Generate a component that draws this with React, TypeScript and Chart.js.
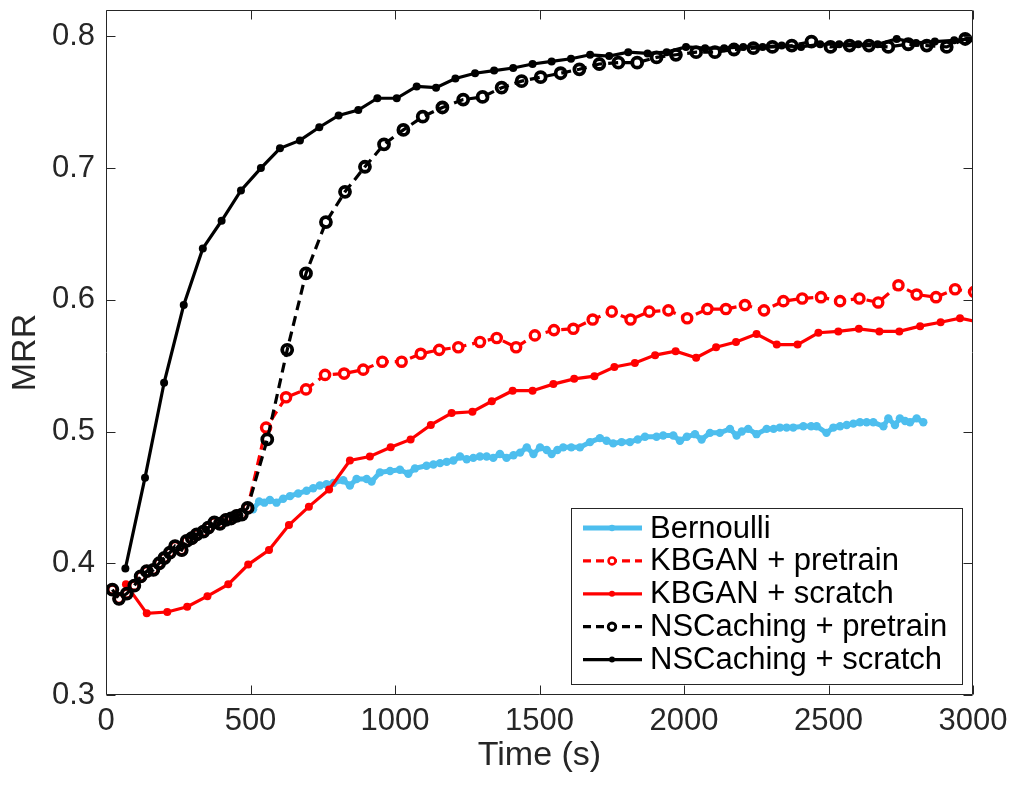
import { useEffect, useRef } from "react";
import { Chart, registerables } from "chart.js";

Chart.register(...registerables);

const FONT = '"Liberation Sans", Arial, Helvetica, sans-serif';
const AXIS_COLOR = "#262626";

const xTicks = [0, 500, 1000, 1500, 2000, 2500, 3000];
const yTicks = [0.3, 0.4, 0.5, 0.6, 0.7, 0.8];

const seriesNames = [
  "Bernoulli",
  "KBGAN + pretrain",
  "KBGAN + scratch",
  "NSCaching + pretrain",
  "NSCaching + scratch",
];

// [time (s), MRR]

// pretraining phase, shared by both "+ pretrain" runs
const pretrainPhase: [number, number][] = [
  [22, 0.38], [45, 0.373], [72, 0.377], [98, 0.383], [120, 0.39], [141, 0.394],
  [164, 0.395], [184, 0.4], [202, 0.404], [221, 0.408], [239, 0.413], [262, 0.41],
  [279, 0.417], [297, 0.419], [314, 0.422], [337, 0.424], [354, 0.427], [375, 0.431],
  [394, 0.43], [415, 0.433], [433, 0.434], [452, 0.436], [470, 0.437], [490, 0.442],
];

const kbganPretrain: [number, number][] = [
  [554, 0.503], [623, 0.526], [692, 0.532], [758, 0.543], [824, 0.544], [890, 0.547],
  [956, 0.553], [1023, 0.553], [1089, 0.559], [1153, 0.562], [1219, 0.564], [1294, 0.568],
  [1352, 0.571], [1419, 0.564], [1484, 0.573], [1550, 0.577], [1617, 0.578], [1684, 0.585],
  [1750, 0.591], [1815, 0.585], [1880, 0.591], [1946, 0.592], [2011, 0.586], [2081, 0.593],
  [2145, 0.593], [2211, 0.596], [2277, 0.592], [2344, 0.599], [2409, 0.601], [2474, 0.602],
  [2540, 0.599], [2607, 0.601], [2672, 0.598], [2742, 0.611], [2805, 0.604], [2872, 0.602],
  [2938, 0.608], [3004, 0.606],
];

const kbganScratch: [number, number][] = [
  [69, 0.384], [141, 0.362], [212, 0.363], [281, 0.367], [351, 0.375], [423, 0.384],
  [492, 0.399], [564, 0.41], [633, 0.429], [702, 0.443], [772, 0.456], [844, 0.478],
  [913, 0.481], [985, 0.488], [1054, 0.494], [1124, 0.505], [1196, 0.514], [1268, 0.515],
  [1335, 0.523], [1407, 0.531], [1476, 0.531], [1548, 0.536], [1620, 0.54], [1690, 0.542],
  [1759, 0.549], [1830, 0.552], [1900, 0.558], [1971, 0.561], [2042, 0.556], [2111, 0.564],
  [2180, 0.568], [2251, 0.574], [2321, 0.566], [2393, 0.566], [2465, 0.575], [2534, 0.576],
  [2605, 0.578], [2676, 0.576], [2745, 0.576], [2817, 0.58], [2888, 0.583], [2955, 0.586],
  [3026, 0.583],
];

const nsPretrain: [number, number][] = [
  [558, 0.494], [627, 0.562], [692, 0.62], [761, 0.659], [827, 0.682], [896, 0.701],
  [962, 0.718], [1029, 0.729], [1096, 0.739], [1164, 0.746], [1236, 0.752], [1303, 0.754],
  [1369, 0.761], [1438, 0.766], [1504, 0.769], [1573, 0.772], [1638, 0.775], [1707, 0.779],
  [1773, 0.78], [1838, 0.78], [1905, 0.784], [1972, 0.786], [2042, 0.788], [2107, 0.788],
  [2173, 0.79], [2240, 0.791], [2306, 0.792], [2373, 0.793], [2441, 0.796], [2507, 0.792],
  [2573, 0.793], [2640, 0.793], [2707, 0.792], [2776, 0.794], [2840, 0.793], [2909, 0.792],
  [2973, 0.798], [3040, 0.797],
];

const nsScratch: [number, number][] = [
  [67, 0.396], [135, 0.465], [201, 0.537], [269, 0.596], [335, 0.639], [400, 0.66],
  [467, 0.683], [536, 0.7], [602, 0.715], [671, 0.721], [738, 0.731], [805, 0.74],
  [873, 0.744], [939, 0.753], [1006, 0.753], [1075, 0.762], [1142, 0.761], [1209, 0.768],
  [1277, 0.772], [1343, 0.774], [1409, 0.776], [1476, 0.779], [1542, 0.781], [1609, 0.783],
  [1675, 0.786], [1741, 0.785], [1807, 0.788], [1874, 0.787], [1940, 0.788], [2007, 0.792],
  [2073, 0.791], [2139, 0.791], [2205, 0.792], [2272, 0.792], [2338, 0.793], [2405, 0.792],
  [2471, 0.794], [2537, 0.794], [2603, 0.794], [2670, 0.794], [2736, 0.798], [2803, 0.795],
  [2868, 0.796], [2935, 0.797], [2986, 0.798], [3053, 0.797],
];

const bernoulli: [number, number][] = [
  [509, 0.441], [530, 0.447], [548, 0.446], [567, 0.448], [590, 0.446], [613, 0.449],
  [637, 0.451], [665, 0.453], [694, 0.455], [717, 0.457], [740, 0.459], [763, 0.46],
  [787, 0.461], [821, 0.463], [844, 0.459], [867, 0.464], [902, 0.464], [919, 0.462],
  [948, 0.469], [983, 0.47], [1017, 0.471], [1046, 0.468], [1069, 0.472], [1109, 0.474],
  [1133, 0.475], [1156, 0.476], [1179, 0.477], [1202, 0.478], [1225, 0.481], [1248, 0.479],
  [1271, 0.48], [1294, 0.481], [1317, 0.481], [1340, 0.48], [1363, 0.483], [1386, 0.48],
  [1410, 0.482], [1433, 0.484], [1456, 0.488], [1479, 0.483], [1502, 0.488], [1525, 0.486],
  [1542, 0.483], [1562, 0.486], [1582, 0.488], [1610, 0.488], [1640, 0.488], [1675, 0.492],
  [1709, 0.495], [1732, 0.493], [1755, 0.491], [1784, 0.492], [1813, 0.492], [1840, 0.494],
  [1865, 0.496], [1905, 0.496], [1928, 0.497], [1963, 0.497], [1986, 0.493], [2010, 0.496],
  [2038, 0.498], [2061, 0.494], [2090, 0.499], [2124, 0.499], [2159, 0.502], [2182, 0.497],
  [2200, 0.5], [2222, 0.502], [2251, 0.498], [2286, 0.502], [2310, 0.502], [2332, 0.503],
  [2355, 0.503], [2378, 0.503], [2413, 0.504], [2440, 0.504], [2459, 0.504], [2493, 0.499],
  [2517, 0.503], [2540, 0.504], [2563, 0.505], [2586, 0.506], [2609, 0.507], [2632, 0.507],
  [2655, 0.507], [2690, 0.504], [2707, 0.51], [2730, 0.505], [2747, 0.51], [2765, 0.508],
  [2782, 0.507], [2805, 0.51], [2828, 0.507],
];

const toPoints = (rows: [number, number][]) => rows.map(([x, y]) => ({ x, y }));

// box + inward tick marks on all four sides, like MATLAB "box on"
const framePlugin = {
  id: "frame",
  afterDatasetsDraw(chart: any) {
    const { ctx, chartArea, scales } = chart;
    const l = Math.round(chartArea.left) + 0.5;
    const r = Math.round(chartArea.right) - 0.5;
    const t = Math.round(chartArea.top) + 0.5;
    const b = Math.round(chartArea.bottom) - 0.5;
    const len = 9;
    ctx.save();
    ctx.strokeStyle = AXIS_COLOR;
    ctx.lineWidth = 1;
    ctx.beginPath();
    ctx.rect(l, t, r - l, b - t);
    xTicks.forEach((v) => {
      const px = Math.round(scales.x.getPixelForValue(v)) + 0.5;
      ctx.moveTo(px, b);
      ctx.lineTo(px, b - len);
      ctx.moveTo(px, t);
      ctx.lineTo(px, t + len);
    });
    yTicks.forEach((v) => {
      const py = Math.round(scales.y.getPixelForValue(v)) + 0.5;
      ctx.moveTo(l, py);
      ctx.lineTo(l + len, py);
      ctx.moveTo(r, py);
      ctx.lineTo(r - len, py);
    });
    ctx.stroke();
    ctx.restore();
  },
};

// boxed legend inside the lower right corner of the axes
const legendPlugin = {
  id: "boxLegend",
  afterDraw(chart: any) {
    const { ctx, chartArea } = chart;
    const w = 391;
    const h = 176;
    const x0 = Math.round(chartArea.right) - 11 - w;
    const y0 = Math.round(chartArea.bottom) - 11 - h;
    ctx.save();
    ctx.fillStyle = "#ffffff";
    ctx.fillRect(x0, y0, w, h);
    ctx.strokeStyle = AXIS_COLOR;
    ctx.lineWidth = 1;
    ctx.strokeRect(x0 + 0.5, y0 + 0.5, w, h);
    chart.data.datasets.forEach((ds: any, i: number) => {
      const cy = y0 + 20 + i * 32.9;
      ctx.strokeStyle = ds.borderColor;
      ctx.lineWidth = ds.borderWidth;
      ctx.setLineDash(ds.borderDash && ds.borderDash.length ? [8, 5] : []);
      ctx.beginPath();
      ctx.moveTo(x0 + 12, cy);
      ctx.lineTo(x0 + 71, cy);
      ctx.stroke();
      ctx.setLineDash([]);
      ctx.beginPath();
      ctx.arc(x0 + 41, cy, ds.pointRadius * 0.75, 0, Math.PI * 2);
      ctx.fillStyle = ds.legendFill;
      ctx.fill();
      if (ds.pointBorderWidth > 0) {
        ctx.lineWidth = ds.pointBorderWidth * 0.75;
        ctx.strokeStyle = ds.pointBorderColor;
        ctx.stroke();
      }
      ctx.fillStyle = "#000000";
      ctx.font = `31px ${FONT}`;
      ctx.textBaseline = "middle";
      ctx.textAlign = "left";
      ctx.fillText(ds.label, x0 + 79, cy + 1);
    });
    ctx.restore();
  },
};

const App = () => {
  const canvasRef = useRef<HTMLCanvasElement | null>(null);

  useEffect(() => {
    const canvas = canvasRef.current;
    if (!canvas) return;

    const solid = (color: string) => ({
      borderColor: color,
      backgroundColor: color,
      borderWidth: 3.2,
      pointRadius: 4,
      pointBackgroundColor: color,
      pointBorderColor: color,
      pointBorderWidth: 0,
      legendFill: color,
    });
    const dashed = (color: string) => ({
      borderColor: color,
      backgroundColor: color,
      borderWidth: 3.2,
      borderDash: [10, 6],
      pointRadius: 5,
      pointBackgroundColor: "rgba(255,255,255,0)",
      pointBorderColor: color,
      pointBorderWidth: 3.8,
      legendFill: "#ffffff",
    });

    const chart = new Chart(canvas, {
      type: "line",
      data: {
        datasets: [
          {
            label: seriesNames[0],
            data: toPoints(bernoulli),
            borderColor: "#4DBEEE",
            backgroundColor: "#4DBEEE",
            borderWidth: 5,
            pointRadius: 4.2,
            pointBackgroundColor: "#4DBEEE",
            pointBorderColor: "#4DBEEE",
            pointBorderWidth: 0,
            legendFill: "#4DBEEE",
            order: 5,
          },
          {
            label: seriesNames[1],
            data: toPoints([...pretrainPhase, ...kbganPretrain]),
            ...dashed("#FF0000"),
            pointRadius: 4.6,
            pointBorderWidth: 3.4,
            pointBackgroundColor: "#ffffff",
            order: 4,
          },
          {
            label: seriesNames[2],
            data: toPoints(kbganScratch),
            ...solid("#FF0000"),
            order: 3,
          },
          {
            label: seriesNames[3],
            data: toPoints([...pretrainPhase, ...nsPretrain]),
            ...dashed("#000000"),
            order: 2,
          },
          {
            label: seriesNames[4],
            data: toPoints(nsScratch),
            ...solid("#000000"),
            order: 1,
          },
        ] as any,
      },
      options: {
        animation: false,
        responsive: true,
        maintainAspectRatio: false,
        parsing: false,
        layout: { padding: { left: 0, right: 45, top: 10, bottom: 0 } },
        plugins: {
          legend: { display: false },
          tooltip: { enabled: false },
        },
        elements: { line: { tension: 0 } },
        scales: {
          x: {
            type: "linear",
            min: 0,
            max: 3000,
            grid: { display: false, drawTicks: false },
            border: { display: false },
            afterBuildTicks: (scale: any) => {
              scale.ticks = xTicks.map((value) => ({ value }));
            },
            afterFit: (scale: any) => {
              scale.height = 90;
            },
            ticks: {
              autoSkip: false,
              maxRotation: 0,
              padding: 8,
              color: AXIS_COLOR,
              font: { family: FONT, size: 31 },
              callback: (v: any) => String(v),
            },
            title: {
              display: true,
              text: "Time (s)",
              color: AXIS_COLOR,
              font: { family: FONT, size: 34 },
              padding: { top: 0, bottom: 9 },
            },
          },
          y: {
            type: "linear",
            min: 0.3,
            max: 0.82,
            grid: { display: false, drawTicks: false },
            border: { display: false },
            afterBuildTicks: (scale: any) => {
              scale.ticks = yTicks.map((value) => ({ value }));
            },
            afterFit: (scale: any) => {
              scale.width = 106;
              scale.paddingTop = 0;
              scale.paddingBottom = 0;
            },
            ticks: {
              padding: 11,
              color: AXIS_COLOR,
              font: { family: FONT, size: 31 },
              callback: (v: any) => Number(v).toFixed(1),
            },
            title: {
              display: true,
              text: "MRR",
              color: AXIS_COLOR,
              font: { family: FONT, size: 34 },
              padding: { top: 5, bottom: 0 },
            },
          },
        },
      },
      plugins: [framePlugin, legendPlugin],
    });

    return () => chart.destroy();
  }, []);

  return (
    <div
      style={{
        position: "absolute",
        left: 0,
        top: 0,
        width: 1018,
        height: 785,
        background: "#ffffff",
      }}
    >
      <canvas ref={canvasRef} />
    </div>
  );
};

export default App;
